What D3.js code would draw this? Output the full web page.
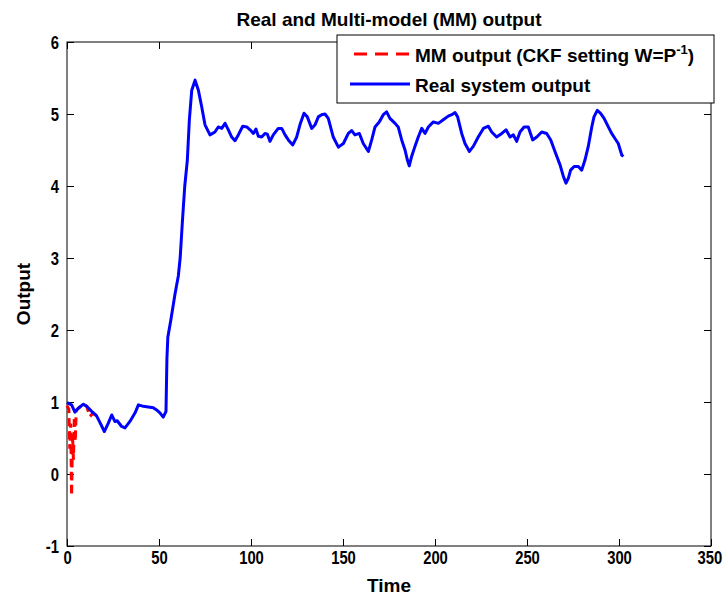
<!DOCTYPE html>
<html>
<head>
<meta charset="utf-8">
<script src="https://cdn.jsdelivr.net/npm/d3@7/dist/d3.min.js"></script>
<style>
  html, body { margin: 0; padding: 0; background: #fff; }
  svg { display: block; }
  .tick text { font-family: "Liberation Sans", Arial, sans-serif; font-weight: bold; font-size: 19px; fill: #000; }
  .lbl { font-family: "Liberation Sans", Arial, sans-serif; font-weight: bold; fill: #000; }
</style>
</head>
<body>
<script>
// ---------------- data ----------------
const xTicks = [0, 50, 100, 150, 200, 250, 300, 350];
const yTicks = [-1, 0, 1, 2, 3, 4, 5, 6];

const realTime = [
  0, 2.5, 4.3, 6, 8.9, 10.7, 13.4, 16, 18, 20.3,
  22.5, 24.3, 26, 27.3, 29.7, 31.5, 34.2, 37, 38.8, 41.5,
  44.2, 46.9, 48.7, 50.5, 52.3, 53.8, 54.3, 54.8, 56.5, 58.7,
  60.5, 61.5, 62.7, 64, 65.4, 66.5, 67.8, 69.6, 71.4, 73.2,
  75, 77.7, 80.4, 82.2, 84.1, 85.9, 87.7, 89.5, 91.3, 93.1,
  95.5, 97.7, 99.5, 101.3, 102.7, 104, 105.8, 107.6, 108.9, 110.3,
  112.1, 114.8, 116.7, 118.5, 120.3, 122.7, 124.8, 126.6, 128.8, 130.6,
  133, 134.8, 136.6, 138.4, 140.2, 142, 144.7, 147.5, 150.2, 152.9,
  154.7, 156.5, 158.9, 161, 163.8, 165.6, 167.4, 169.7, 171.9, 173.7,
  175.5, 178.3, 180, 181.9, 183.7, 185, 186, 187.3, 189.1, 190.9,
  192.8, 194.6, 196.4, 199.1, 201.8, 204.5, 207.2, 209.1, 210.9, 212.3,
  214.5, 216.3, 218.7, 220.8, 223.5, 226.3, 229, 230.8, 233.5, 236.3,
  238.6, 240.8, 242.6, 244.4, 246.2, 248.4, 250.7, 253.1, 255.3, 258,
  260.7, 262.9, 265.2, 268, 269.8, 271.2, 272.5, 273.7, 275.6, 277.9,
  279.7, 281.5, 283.3, 285.2, 286.4, 288.2, 290, 291.9, 294.2, 296,
  297.8, 299.6, 301.5, 302.4
];
const realOutput = [
  0.99, 0.96, 0.86, 0.91, 0.97, 0.94, 0.87, 0.81, 0.71, 0.59,
  0.71, 0.82, 0.73, 0.74, 0.66, 0.64, 0.73, 0.85, 0.96, 0.94,
  0.93, 0.92, 0.89, 0.85, 0.79, 0.87, 1.6, 1.9, 2.15, 2.5,
  2.75, 3.0, 3.5, 4.0, 4.36, 4.92, 5.33, 5.47, 5.33, 5.10,
  4.85, 4.71, 4.75, 4.82, 4.80, 4.87, 4.78, 4.68, 4.63, 4.71,
  4.83, 4.82, 4.78, 4.73, 4.79, 4.69, 4.68, 4.73, 4.72, 4.62,
  4.71, 4.80, 4.80, 4.71, 4.64, 4.57, 4.68, 4.85, 5.01, 4.96,
  4.80, 4.85, 4.96, 4.99, 5.0, 4.94, 4.68, 4.54, 4.59, 4.73,
  4.77, 4.71, 4.73, 4.59, 4.48, 4.64, 4.82, 4.89, 4.99, 5.03,
  4.94, 4.87, 4.82, 4.64, 4.50, 4.36, 4.28, 4.41, 4.55, 4.68,
  4.80, 4.73, 4.82, 4.89, 4.87, 4.92, 4.97, 4.99, 5.02, 4.96,
  4.73, 4.59, 4.48, 4.55, 4.68, 4.80, 4.83, 4.75, 4.68, 4.73,
  4.78, 4.68, 4.71, 4.62, 4.75, 4.82, 4.82, 4.64, 4.68, 4.75,
  4.73, 4.64, 4.48, 4.29, 4.13, 4.04, 4.11, 4.22, 4.27, 4.27,
  4.22, 4.36, 4.55, 4.82, 4.96, 5.05, 5.01, 4.94, 4.82, 4.73,
  4.66, 4.59, 4.43, 4.41
];

const mmTime   = [0, 1, 1.5, 2, 2.5, 3, 3.5, 4, 4.5, 5, 6, 8.9, 10.7, 12.5, 14, 16];
const mmOutput = [0.95, 0.9, 0.35, 0.7, -0.3, 0.55, 0.2, 0.8, 0.45, 0.88, 0.91, 0.97, 0.94, 0.8, 0.84, 0.81];

const titleText = "Real and Multi-model (MM) output";
const xLabel = "Time";
const yLabel = "Output";
const legendMM = "MM output (CKF setting W=P";
const legendReal = "Real system output";

// ---------------- chart ----------------
const W = 724, H = 597;
const svg = d3.select("body").append("svg").attr("width", W).attr("height", H);
svg.append("rect").attr("width", W).attr("height", H).attr("fill", "#fff");

const x = d3.scaleLinear().domain([0, 350]).range([67, 711]);
const y = d3.scaleLinear().domain([-1, 6]).range([546, 42]);

const fmt = d => String(d);   // plain hyphen-minus like the reference

// axes
const gx = svg.append("g").attr("transform", `translate(0,${y(-1)})`)
  .call(d3.axisBottom(x).tickValues(xTicks).tickSizeInner(-7).tickSizeOuter(0).tickPadding(5).tickFormat(fmt));
const gy = svg.append("g").attr("transform", `translate(${x(0)},0)`)
  .call(d3.axisLeft(y).tickValues(yTicks).tickSizeInner(-7).tickSizeOuter(0).tickPadding(8).tickFormat(fmt));
const gt = svg.append("g").attr("transform", `translate(0,${y(6)})`)
  .call(d3.axisTop(x).tickValues(xTicks).tickSizeInner(-7).tickSizeOuter(0).tickFormat(""));
const gr = svg.append("g").attr("transform", `translate(${x(350)},0)`)
  .call(d3.axisRight(y).tickValues(yTicks).tickSizeInner(-7).tickSizeOuter(0).tickFormat(""));
[gx, gy, gt, gr].forEach(g => {
  g.select(".domain").remove();
  g.selectAll(".tick line").attr("stroke", "#000").attr("stroke-width", 1);
});
// condensed-looking digits as in the reference (horizontal squeeze)
gx.selectAll(".tick text").attr("transform", "scale(0.78,1)");
gy.selectAll(".tick text").each(function() {
  const xx = +d3.select(this).attr("x");
  d3.select(this).attr("transform", `translate(${xx},0) scale(0.78,1)`).attr("x", 0);
});
gx.selectAll(".tick").filter(d => d === 350).select("text").attr("dx", -2);

// box
svg.append("rect")
  .attr("x", x(0)).attr("y", y(6))
  .attr("width", x(350) - x(0)).attr("height", y(-1) - y(6))
  .attr("fill", "none").attr("stroke", "#000").attr("stroke-width", 1);

// lines
const line = d3.line().x(d => x(d[0])).y(d => y(d[1]));
const mmData = mmTime.map((t, i) => [t, mmOutput[i]]);
const realData = realTime.map((t, i) => [t, realOutput[i]]);

svg.append("path").datum(mmData)
  .attr("d", line).attr("fill", "none").attr("stroke", "#ff0000")
  .attr("stroke-width", 3).attr("stroke-dasharray", "8,5");
svg.append("path").datum(realData)
  .attr("d", line).attr("fill", "none").attr("stroke", "#0000ff")
  .attr("stroke-width", 3).attr("stroke-linejoin", "round");

// title & labels
svg.append("text").attr("class", "lbl").attr("x", (x(0) + x(350)) / 2).attr("y", 26)
  .attr("text-anchor", "middle").attr("font-size", 19).text(titleText);
svg.append("text").attr("class", "lbl").attr("x", (x(0) + x(350)) / 2).attr("y", 592)
  .attr("text-anchor", "middle").attr("font-size", 19).text(xLabel);
svg.append("text").attr("class", "lbl")
  .attr("transform", `translate(30,${(y(6) + y(-1)) / 2}) rotate(-90)`)
  .attr("text-anchor", "middle").attr("font-size", 19).text(yLabel);

// legend
const lg = svg.append("g");
lg.append("rect").attr("x", 337).attr("y", 35).attr("width", 377).attr("height", 68)
  .attr("fill", "#fff").attr("stroke", "#000").attr("stroke-width", 1);
lg.append("line").attr("x1", 354).attr("x2", 411).attr("y1", 54).attr("y2", 54)
  .attr("stroke", "#ff0000").attr("stroke-width", 3).attr("stroke-dasharray", "13,8");
lg.append("line").attr("x1", 350).attr("x2", 410).attr("y1", 84).attr("y2", 84)
  .attr("stroke", "#0000ff").attr("stroke-width", 3);
const t1 = lg.append("text").attr("class", "lbl").attr("x", 415).attr("y", 62).attr("font-size", 19);
t1.append("tspan").text(legendMM);
t1.append("tspan").attr("font-size", 13).attr("dy", -8).text("-1");
t1.append("tspan").attr("dy", 8).text(")");
lg.append("text").attr("class", "lbl").attr("x", 415).attr("y", 92).attr("font-size", 19).text(legendReal);
</script>
</body>
</html>
